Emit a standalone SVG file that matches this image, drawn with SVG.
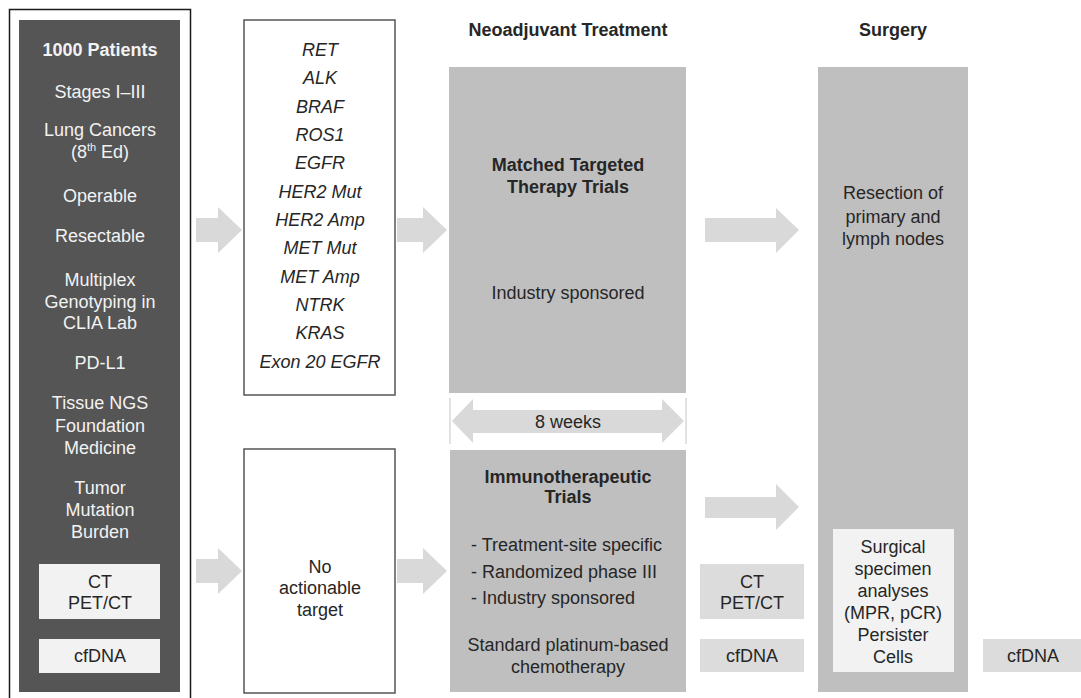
<svg xmlns="http://www.w3.org/2000/svg" width="1081" height="698" viewBox="0 0 1081 698">
<style>
text{font-family:"Liberation Sans",Arial,sans-serif;font-size:18px;text-anchor:middle}
.w{fill:#f2f2f2}
.d{fill:#262626}
.b{font-weight:bold}
.i{font-style:italic}
.l{text-anchor:start}
.arr{fill:#d9d9d9}
.gray{fill:#bfbfbf}
.lt{fill:#f2f2f2}
.mid{fill:#dcdcdc}
</style>
<rect width="1081" height="698" fill="#ffffff"/>
<g id="patients">
<rect x="9.5" y="9.5" width="181" height="700" fill="#ffffff" stroke="#1a1a1a" stroke-width="1.5"/>
<rect x="19" y="20" width="161" height="672" fill="#555555"/>
<text class="w b" x="100" y="56">1000 Patients</text>
<text class="w" x="100" y="98">Stages I–III</text>
<text class="w" x="100" y="136">Lung Cancers</text>
<text class="w" x="100" y="158">(8<tspan font-size="11" dy="-7">th</tspan><tspan dy="7"> Ed)</tspan></text>
<text class="w" x="100" y="202">Operable</text>
<text class="w" x="100" y="242">Resectable</text>
<text class="w" x="100" y="286">Multiplex</text>
<text class="w" x="100" y="308">Genotyping in</text>
<text class="w" x="100" y="329">CLIA Lab</text>
<text class="w" x="100" y="369">PD-L1</text>
<text class="w" x="100" y="409">Tissue NGS</text>
<text class="w" x="100" y="432">Foundation</text>
<text class="w" x="100" y="454">Medicine</text>
<text class="w" x="100" y="494">Tumor</text>
<text class="w" x="100" y="516">Mutation</text>
<text class="w" x="100" y="538">Burden</text>
</g>
<g id="left-ct">
<rect x="39" y="564" width="121" height="55" class="lt"/>
<text class="d" x="100" y="588">CT</text>
<text class="d" x="100" y="609">PET/CT</text>
</g>
<g id="left-cfdna">
<rect x="39" y="639" width="121" height="34" class="lt"/>
<text class="d" x="100" y="662">cfDNA</text>
</g>
<g id="genes">
<rect x="244" y="20" width="151" height="375" fill="#ffffff" stroke="#555555" stroke-width="1.5"/>
<text class="d i" x="320" y="56">RET</text>
<text class="d i" x="320" y="84">ALK</text>
<text class="d i" x="320" y="113">BRAF</text>
<text class="d i" x="320" y="141">ROS1</text>
<text class="d i" x="320" y="169">EGFR</text>
<text class="d i" x="320" y="198">HER2 Mut</text>
<text class="d i" x="320" y="226">HER2 Amp</text>
<text class="d i" x="320" y="254">MET Mut</text>
<text class="d i" x="320" y="283">MET Amp</text>
<text class="d i" x="320" y="311">NTRK</text>
<text class="d i" x="320" y="339">KRAS</text>
<text class="d i" x="320" y="368">Exon 20 EGFR</text>
</g>
<g id="no-target">
<rect x="244" y="449" width="151" height="244" fill="#ffffff" stroke="#555555" stroke-width="1.5"/>
<text class="d" x="320" y="573">No</text>
<text class="d" x="320" y="594">actionable</text>
<text class="d" x="320" y="616">target</text>
</g>
<g id="headers">
<text class="d b" x="568" y="36">Neoadjuvant Treatment</text>
<text class="d b" x="893" y="36">Surgery</text>
</g>
<g id="matched">
<rect x="449" y="67" width="237" height="326" class="gray"/>
<text class="d b" x="568" y="171">Matched Targeted</text>
<text class="d b" x="568" y="193">Therapy Trials</text>
<text class="d" x="568" y="299">Industry sponsored</text>
</g>
<g id="immuno">
<rect x="450" y="450" width="236" height="242" class="gray"/>
<text class="d b" x="568" y="483">Immunotherapeutic</text>
<text class="d b" x="568" y="503">Trials</text>
<text class="d l" x="471" y="551">- Treatment-site specific</text>
<text class="d l" x="471" y="578">- Randomized phase III</text>
<text class="d l" x="471" y="604">- Industry sponsored</text>
<text class="d" x="568" y="651">Standard platinum-based</text>
<text class="d" x="568" y="673">chemotherapy</text>
</g>
<g id="mid-ct">
<rect x="700" y="564" width="104" height="55" class="mid"/>
<text class="d" x="752" y="588">CT</text>
<text class="d" x="752" y="609">PET/CT</text>
</g>
<g id="mid-cfdna">
<rect x="700" y="639" width="104" height="33" class="mid"/>
<text class="d" x="752" y="662">cfDNA</text>
</g>
<g id="surgery">
<rect x="818" y="67" width="150" height="625" class="gray"/>
<text class="d" x="893" y="199">Resection of</text>
<text class="d" x="893" y="223">primary and</text>
<text class="d" x="893" y="245">lymph nodes</text>
</g>
<g id="specimen">
<rect x="833" y="529" width="121" height="143" class="lt"/>
<text class="d" x="893" y="553">Surgical</text>
<text class="d" x="893" y="575">specimen</text>
<text class="d" x="893" y="597">analyses</text>
<text class="d" x="893" y="619">(MPR, pCR)</text>
<text class="d" x="893" y="641">Persister</text>
<text class="d" x="893" y="663">Cells</text>
</g>
<g id="right-cfdna">
<rect x="983" y="639" width="98" height="33" class="mid"/>
<text class="d" x="1033" y="662">cfDNA</text>
</g>
<g id="connectors">
<polygon class="arr" points="196,218 218,218 218,207 242,230 218,253 218,242 196,242"/>
<polygon class="arr" points="397,218 423,218 423,207 447,230 423,253 423,242 397,242"/>
<polygon class="arr" points="705,218 776,218 776,208 799,230 776,253 776,242 705,242"/>
<polygon class="arr" points="196,559 218,559 218,548 242,571 218,594 218,583 196,583"/>
<polygon class="arr" points="397,559 423,559 423,548 447,571 423,594 423,583 397,583"/>
<polygon class="arr" points="705,497 776,497 776,484 799,507 776,530 776,518 705,518"/>
<line x1="450" y1="398" x2="450" y2="444" stroke="#d9d9d9" stroke-width="1.5"/>
<line x1="686" y1="398" x2="686" y2="444" stroke="#d9d9d9" stroke-width="1.5"/>
<polygon class="arr" points="452,421 473,399 473,410 662,410 662,399 684,421 662,443 662,433 473,433 473,443"/>
<text class="d" x="568" y="428">8 weeks</text>
</g>
</svg>
